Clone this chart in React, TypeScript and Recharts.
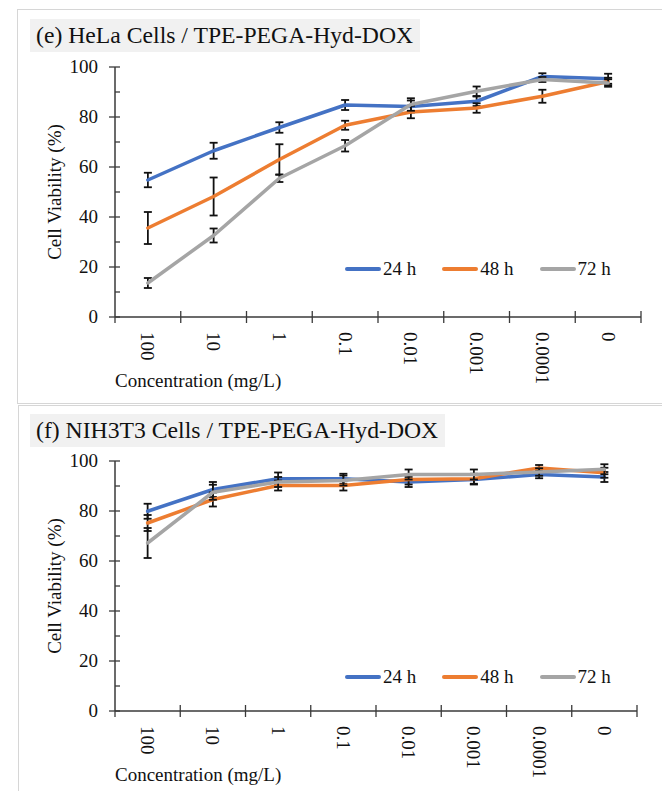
import React from 'react';
import { LineChart, Line, XAxis, YAxis, ErrorBar, Legend, Label } from 'recharts';

// concentrations (mg/L), left to right
const concentrations = ['100', '10', '1', '0.1', '0.01', '0.001', '0.0001', '0'];
const yTicks = [0, 10, 20, 30, 40, 50, 60, 70, 80, 90, 100];

// (e) HeLa cells
const helaV24 = [54.8, 66.5, 75.8, 84.8, 84.2, 86.3, 96.2, 95.3];
const helaV48 = [35.6, 48.2, 63.0, 76.7, 82.0, 83.6, 88.3, 94.2];
const helaV72 = [13.6, 32.6, 55.5, 68.5, 85.0, 90.3, 95.0, 93.6];
const helaE24 = [2.9, 3.2, 2.1, 2.0, 2.4, 1.9, 1.3, 2.0];
const helaE48 = [6.4, 7.6, 6.1, 1.8, 2.5, 1.9, 2.6, 1.5];
const helaE72 = [2.0, 2.8, 1.5, 2.3, 2.5, 1.9, 1.0, 1.5];

// (f) NIH3T3 cells
const nihV24 = [79.9, 88.6, 92.9, 92.9, 91.6, 92.6, 94.6, 93.6];
const nihV48 = [75.2, 84.6, 90.2, 90.2, 92.6, 92.9, 97.2, 95.3];
const nihV72 = [67.2, 87.5, 91.6, 92.2, 94.6, 94.6, 95.6, 96.7];
const nihE24 = [3.0, 3.0, 2.5, 2.0, 2.0, 2.0, 1.5, 2.0];
const nihE48 = [3.2, 2.8, 2.0, 2.0, 2.0, 2.0, 1.2, 2.0];
const nihE72 = [6.0, 3.0, 2.0, 2.0, 2.0, 2.0, 1.5, 2.0];

const seriesNames = ['24 h', '48 h', '72 h'];
const colors = ['#4472C4', '#ED7D31', '#A5A5A5'];

const AXIS = '#3a3a3a';
const FONT = "'Liberation Serif', 'Times New Roman', serif";

const build = (v24: number[], v48: number[], v72: number[], e24: number[], e48: number[], e72: number[]) =>
  concentrations.map((c, i) => ({ c, v24: v24[i], v48: v48[i], v72: v72[i], e24: e24[i], e48: e48[i], e72: e72[i] }));

const helaData = build(helaV24, helaV48, helaV72, helaE24, helaE48, helaE72);
const nihData = build(nihV24, nihV48, nihV72, nihE24, nihE48, nihE72);

const YTick = (props: any) => {
  const { x, y, payload } = props;
  const major = payload.value % 20 === 0;
  return (
    <g>
      <line x1={major ? x - 6 : x} x2={x + 5} y1={y} y2={y} stroke={AXIS} strokeWidth={1.3} />
      {major && (
        <text x={x - 17} y={y} dy="0.33em" textAnchor="end" fontSize={19} fontFamily={FONT} fill="#111">
          {payload.value}
        </text>
      )}
    </g>
  );
};

const makeXTick = (band: number) => (props: any) => {
  const { x, y, payload, index } = props;
  const ty = y + 15;
  return (
    <g>
      <line x1={x + band / 2} x2={x + band / 2} y1={y - 6} y2={y + 6} stroke={AXIS} strokeWidth={1.3} />
      {index === 0 && <line x1={x - band / 2} x2={x - band / 2} y1={y} y2={y + 6} stroke={AXIS} strokeWidth={1.3} />}
      <text x={x} y={ty} dy="0.34em" transform={`rotate(90, ${x}, ${ty})`} fontSize={19} fontFamily={FONT} fill="#111">
        {payload.value}
      </text>
    </g>
  );
};

const LegendContent = (props: any) => {
  const items = props.payload || [];
  return (
    <div style={{ display: 'flex', alignItems: 'center', fontFamily: FONT, fontSize: 19, color: '#111' }}>
      {items.map((it: any) => (
        <div key={it.value} style={{ display: 'flex', alignItems: 'center', marginRight: 26 }}>
          <svg width={36} height={8} style={{ marginRight: 2 }}>
            <line x1={2} x2={34} y1={4} y2={4} stroke={it.color} strokeWidth={4} strokeLinecap="round" />
          </svg>
          <span style={{ lineHeight: '22px', fontFamily: FONT }}>{it.value}</span>
        </div>
      ))}
    </div>
  );
};

interface PanelProps {
  data: any[];
  axisRight: number;
  legendTop: number;
}

const W = 662;
const H = 400;
const PLOT_LEFT = 115;
const PLOT_TOP = 67;
const PLOT_BOTTOM = 317;

const Panel = ({ data, axisRight, legendTop }: PanelProps) => {
  const plotW = axisRight - PLOT_LEFT;
  const band = plotW / concentrations.length;
  const XTick = makeXTick(band);
  const keys = ['v24', 'v48', 'v72'];
  const errs = ['e24', 'e48', 'e72'];
  return (
    <LineChart
      width={W}
      height={H}
      data={data}
      margin={{ top: PLOT_TOP, right: W - axisRight, left: PLOT_LEFT - 60, bottom: H - PLOT_BOTTOM - 70 }}
    >
      <XAxis
        dataKey="c"
        height={70}
        padding={{ left: band / 2, right: band / 2 }}
        axisLine={{ stroke: AXIS, strokeWidth: 1.5 }}
        tickLine={false}
        tickSize={0}
        tickMargin={0}
        interval={0}
        tick={XTick}
      >
        <Label
          value="Concentration (mg/L)"
          position="insideBottomLeft"
          offset={0}
          fontSize={19}
          fontFamily={FONT}
          fill="#111"
        />
      </XAxis>
      <YAxis
        width={60}
        domain={[0, 100]}
        ticks={yTicks}
        interval={0}
        axisLine={{ stroke: AXIS, strokeWidth: 1.5 }}
        tickLine={false}
        tickSize={0}
        tickMargin={0}
        tick={YTick}
      >
        <Label
          value="Cell Viability (%)"
          angle={-90}
          position="insideLeft"
          offset={-1}
          fontSize={19}
          fontFamily={FONT}
          fill="#111"
          style={{ textAnchor: 'middle' }}
        />
      </YAxis>
      <Legend
        layout="horizontal"
        verticalAlign="middle"
        align="center"
        content={LegendContent}
        wrapperStyle={{ left: 345, top: legendTop, width: 310 }}
      />
      {keys.map((k, i) => (
        <Line
          key={k}
          dataKey={k}
          name={seriesNames[i]}
          stroke={colors[i]}
          strokeWidth={3.5}
          strokeLinecap="round"
          strokeLinejoin="round"
          dot={false}
          activeDot={false}
          isAnimationActive={false}
        >
          <ErrorBar dataKey={errs[i]} width={4} strokeWidth={1.8} stroke="#111" />
        </Line>
      ))}
    </LineChart>
  );
};

const titleBox = (text: string, top: number, width: number) => (
  <div
    style={{
      position: 'absolute',
      left: 30,
      top,
      width,
      height: 33,
      background: '#f1f1f1',
      fontSize: 23.7,
      lineHeight: '33px',
      paddingLeft: 6,
      boxSizing: 'border-box',
      color: '#111',
      whiteSpace: 'nowrap',
      fontFamily: FONT,
    }}
  >
    {text}
  </div>
);

export default function App() {
  return (
    <div
      style={{
        position: 'absolute',
        left: 0,
        top: 0,
        width: 662,
        height: 791,
        overflow: 'hidden',
        background: '#fff',
        fontFamily: FONT,
      }}
    >
      <div
        style={{
          position: 'absolute',
          left: 17,
          top: 9,
          width: 700,
          height: 393,
          borderTop: '1.5px solid #d6d6d6',
          borderLeft: '1.5px solid #d6d6d6',
          borderBottom: '1.5px solid #d6d6d6',
        }}
      />
      <div
        style={{
          position: 'absolute',
          left: 18,
          top: 405,
          width: 700,
          height: 420,
          borderTop: '1.5px solid #d6d6d6',
          borderLeft: '1.5px solid #d6d6d6',
        }}
      />
      {titleBox('(e) HeLa Cells / TPE-PEGA-Hyd-DOX', 19, 390)}
      {titleBox('(f) NIH3T3 Cells / TPE-PEGA-Hyd-DOX', 414, 415)}
      <div style={{ position: 'absolute', left: 0, top: 0 }}>
        <Panel data={helaData} axisRight={641} legendTop={258} />
      </div>
      <div style={{ position: 'absolute', left: 0, top: 394 }}>
        <Panel data={nihData} axisRight={637} legendTop={272} />
      </div>
    </div>
  );
}
